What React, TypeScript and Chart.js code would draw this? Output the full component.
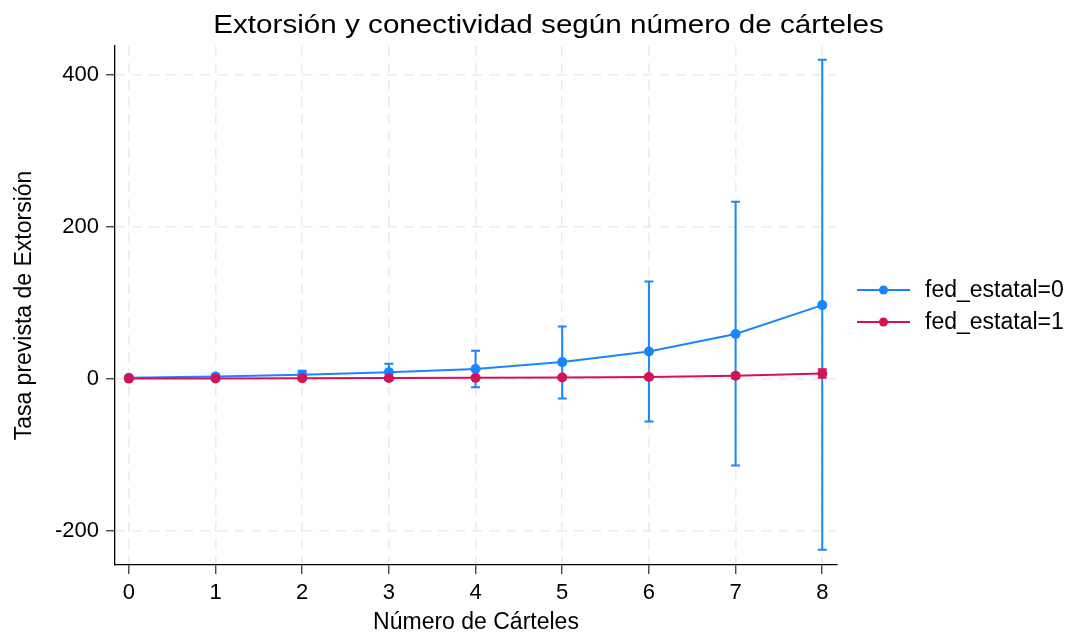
import React, { useEffect, useRef } from "react";
import { Chart, registerables } from "chart.js";

Chart.register(...registerables);

const carteles = [0, 1, 2, 3, 4, 5, 6, 7, 8];
const fed0 = [1.5, 3, 5.5, 8.8, 13, 22, 36, 59, 97];
const fed0Lo = [-0.5, 0, 0.5, -2, -11, -26, -56, -114, -225];
const fed0Hi = [3.5, 6, 10.5, 19.7, 37, 69, 128, 233, 420];
const fed1 = [0.3, 0.5, 0.7, 1, 1.3, 1.8, 2.5, 4, 7];
const fed1Lo = [0, 0.1, 0.2, 0.3, 0.4, 0.6, 0.8, 1.2, 1.5];
const fed1Hi = [0.6, 0.9, 1.2, 1.7, 2.2, 3, 4.2, 6.8, 12.5];
const yTicks = [-200, 0, 200, 400];
const seriesLabels = ["fed_estatal=0", "fed_estatal=1"];
const titleText = "Extorsión y conectividad según número de cárteles";
const xTitle = "Número de Cárteles";
const yTitle = "Tasa prevista de Extorsión";

const BLUE = "rgb(26,133,255)";
const RED = "rgb(212,17,89)";
const FONT = "'Liberation Sans', Arial, Helvetica, sans-serif";

export default function App() {
  const ref = useRef<HTMLCanvasElement>(null);
  useEffect(() => {
    document.body.style.margin = "0";
    const canvas = ref.current!;
    const errs = [
      { lo: fed0Lo, hi: fed0Hi, color: BLUE },
      { lo: fed1Lo, hi: fed1Hi, color: RED },
    ];
    const errorBars = {
      id: "errorBars",
      beforeDatasetDraw(chart: any, args: any) {
        const e = errs[args.index];
        if (!e) return;
        const { ctx, scales } = chart;
        const xs = scales.x, ys = scales.y;
        ctx.save();
        ctx.strokeStyle = e.color;
        ctx.lineWidth = 2;
        carteles.forEach((c, i) => {
          const x = xs.getPixelForValue(c);
          const y1 = ys.getPixelForValue(e.lo[i]);
          const y2 = ys.getPixelForValue(e.hi[i]);
          ctx.beginPath();
          ctx.moveTo(x, y1);
          ctx.lineTo(x, y2);
          ctx.moveTo(x - 4.5, y1);
          ctx.lineTo(x + 4.5, y1);
          ctx.moveTo(x - 4.5, y2);
          ctx.lineTo(x + 4.5, y2);
          ctx.stroke();
        });
        ctx.restore();
      },
    };
    const decor = {
      id: "decor",
      afterDraw(chart: any) {
        const { ctx } = chart;
        ctx.save();
        ctx.fillStyle = "#000";
        ctx.font = `26px ${FONT}`;
        ctx.textAlign = "center";
        ctx.textBaseline = "middle";
        ctx.save();
        ctx.translate(548.5, 26);
        ctx.scale(1.14, 1);
        ctx.fillText(titleText, 0, 0);
        ctx.restore();
        const cols = [BLUE, RED];
        const ys = [290, 322];
        ctx.font = `23px ${FONT}`;
        ctx.textAlign = "left";
        seriesLabels.forEach((lab, i) => {
          ctx.strokeStyle = cols[i];
          ctx.lineWidth = 2;
          ctx.beginPath();
          ctx.moveTo(857, ys[i]);
          ctx.lineTo(910, ys[i]);
          ctx.stroke();
          ctx.fillStyle = cols[i];
          ctx.beginPath();
          ctx.arc(883.5, ys[i], 4.5, 0, Math.PI * 2);
          ctx.fill();
          ctx.fillStyle = "#000";
          ctx.fillText(lab, 925, ys[i] + 1);
        });
        ctx.restore();
      },
    };
    const gridCommon = {
      color: "#ebebeb",
      lineWidth: 1.6,
      tickColor: "#000",
      tickLength: 9,
      tickWidth: 1,
    };
    const chart = new Chart(canvas, {
      type: "line",
      data: {
        datasets: [
          {
            label: seriesLabels[0],
            data: carteles.map((c, i) => ({ x: c, y: fed0[i] })),
            borderColor: BLUE,
            backgroundColor: BLUE,
            borderWidth: 2,
            pointRadius: 5,
            pointBorderWidth: 0,
            pointBackgroundColor: BLUE,
            tension: 0,
            order: 2,
          },
          {
            label: seriesLabels[1],
            data: carteles.map((c, i) => ({ x: c, y: fed1[i] })),
            borderColor: RED,
            backgroundColor: RED,
            borderWidth: 2,
            pointRadius: 5,
            pointBorderWidth: 0,
            pointBackgroundColor: RED,
            tension: 0,
            order: 1,
          },
        ],
      },
      options: {
        animation: false,
        responsive: false,
        maintainAspectRatio: false,
        layout: { padding: { top: 46, right: 236, left: 0, bottom: 0 } },
        plugins: {
          legend: { display: false },
          title: { display: false },
          tooltip: { enabled: false },
        },
        scales: {
          x: {
            type: "linear",
            min: -0.16,
            max: 8.17,
            afterBuildTicks: (s: any) => {
              s.ticks = carteles.map((v) => ({ value: v }));
            },
            afterFit: (s: any) => {
              s.height = 71;
            },
            grid: gridCommon,
            border: { display: true, color: "#000", width: 1.3, dash: [10, 7] },
            ticks: {
              color: "#000",
              font: { family: FONT, size: 22 },
              padding: 6,
              maxRotation: 0,
            },
            title: {
              display: true,
              text: xTitle,
              color: "#000",
              font: { family: FONT, size: 23 },
              padding: { top: 0, bottom: 0 },
            },
          },
          y: {
            type: "linear",
            min: -245,
            max: 438,
            afterBuildTicks: (s: any) => {
              s.ticks = yTicks.map((v) => ({ value: v }));
            },
            afterFit: (s: any) => {
              s.width = 115;
            },
            grid: gridCommon,
            border: { display: true, color: "#000", width: 1.3, dash: [10, 7] },
            ticks: {
              color: "#000",
              font: { family: FONT, size: 22 },
              padding: 7,
            },
            title: {
              display: true,
              text: yTitle,
              color: "#000",
              font: { family: FONT, size: 23 },
              padding: { top: 11, bottom: 0 },
            },
          },
        },
      },
      plugins: [errorBars, decor],
    });
    return () => chart.destroy();
  }, []);
  return (
    <div style={{ position: "absolute", left: 0, top: 0, width: 1073, height: 636, background: "#fff" }}>
      <canvas ref={ref} width={1073} height={636} />
    </div>
  );
}
